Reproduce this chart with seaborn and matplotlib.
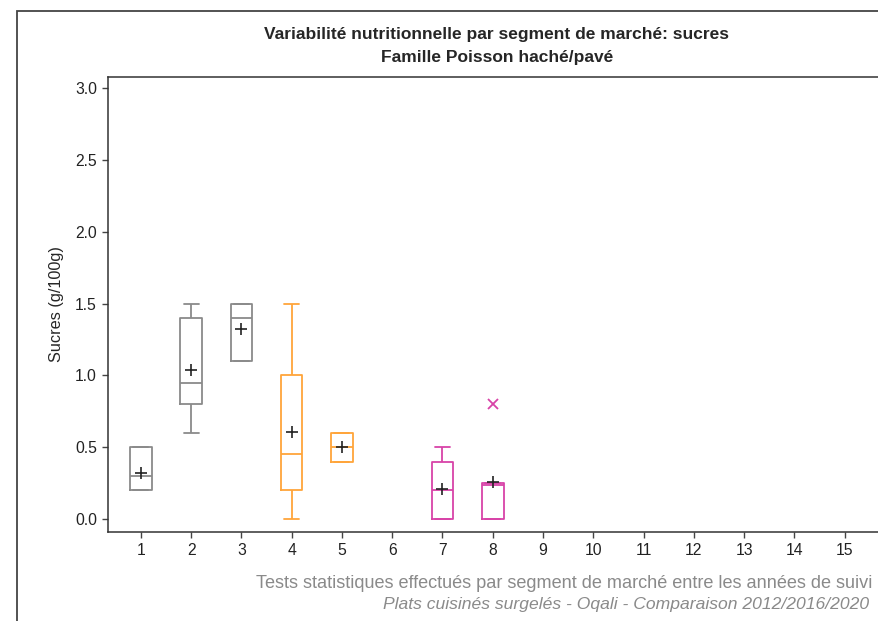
import matplotlib
matplotlib.use('Agg')
import matplotlib.pyplot as plt
import matplotlib.patches as mpatches
import pandas as pd
import seaborn as sns

# Sugar values (g/100g) per market segment
segments = [str(i) for i in range(1, 16)]
seg_1 = [0.2, 0.2, 0.2, 0.2, 0.3, 0.3, 0.5, 0.5, 0.5]
seg_2 = [0.6, 0.7, 0.8, 0.9, 0.95, 1.0, 1.4, 1.5, 1.5]
seg_3 = [1.1, 1.1, 1.4, 1.5, 1.5]
seg_4 = [0.0, 0.1, 0.2, 0.4, 0.45, 0.6, 1.0, 1.2, 1.5]
seg_5 = [0.4, 0.4, 0.5, 0.6, 0.6]
seg_7 = [0.0, 0.0, 0.0, 0.1, 0.2, 0.3, 0.4, 0.4, 0.5]
seg_8 = [0.0, 0.0, 0.24, 0.25, 0.8]

groups = {'1': 'A', '2': 'A', '3': 'A', '4': 'B', '5': 'B', '7': 'C', '8': 'C'}
my_cs = {'A': '#8a8a8a', 'B': '#ffa53a', 'C': '#d843a8'}

title = 'Variabilité nutritionnelle par segment de marché: sucres\nFamille Poisson haché/pavé'
footer_1 = 'Tests statistiques effectués par segment de marché entre les années de suivi'
footer_2 = 'Plats cuisinés surgelés - Oqali - Comparaison 2012/2016/2020'


def build_frame():
  rows = []
  for seg, vals in [('1', seg_1), ('2', seg_2), ('3', seg_3), ('4', seg_4),
                    ('5', seg_5), ('7', seg_7), ('8', seg_8)]:
    for v in vals:
      rows.append({'segment': seg, 'value': v, 'group': groups[seg]})
  return pd.DataFrame(rows)


def main():
  df = build_frame()
  sns.set_style('ticks')
  plt.rcParams['font.family'] = ['Liberation Sans', 'DejaVu Sans']

  fig = plt.figure(figsize=(8.79, 6.21), dpi=100)
  W, H = 879, 621
  ax = fig.add_axes([108 / W, (H - 532) / H, (905 - 108) / W, (532 - 77) / H])

  sns.boxplot(data=df, x='segment', y='value', hue='group', order=segments,
              palette=my_cs, fill=False, dodge=False, width=0.43, whis=1.5,
              linewidth=1.3, legend=False, ax=ax, capwidths=0.3,
              showmeans=True,
              meanprops=dict(marker='+', markeredgecolor='#222222',
                             markerfacecolor='#222222', markersize=9,
                             markeredgewidth=1.2),
              flierprops=dict(marker='x', markersize=7, markeredgewidth=1.3))

  # flier colour follows the group colour
  for line in ax.lines:
    if line.get_marker() == 'x':
      line.set_markeredgecolor(my_cs['C'])

  ax.set_xlim(-0.653, 15.2)
  ax.set_ylim(-0.0905, 3.0787)
  ax.set_yticks([0, 0.5, 1.0, 1.5, 2.0, 2.5, 3.0])
  ax.set_yticklabels(['0.0', '0.5', '1.0', '1.5', '2.0', '2.5', '3.0'])
  ax.set_xlabel('')
  ax.set_ylabel('Sucres (g/100g)', fontsize=11.7, labelpad=8)
  ax.tick_params(axis='both', labelsize=11.3, length=4, width=1,
                 color='#444444', labelcolor='#222222', pad=4)
  for side in ['left', 'bottom', 'top', 'right']:
    ax.spines[side].set_visible(True)
    ax.spines[side].set_color('#333333')
    ax.spines[side].set_linewidth(1.1)

  fig.text(497 / W, 1 - 46 / H, title, ha='center', va='center',
           fontsize=12.5, fontweight='bold', linespacing=1.6)
  fig.text(256 / W, 1 - 583 / H, footer_1, ha='left', va='center',
           fontsize=13.1, color='#8a8a8a')
  fig.text(383 / W, 1 - 604 / H, footer_2, ha='left', va='center',
           fontsize=12.6, color='#8a8a8a', style='italic')

  border = mpatches.Rectangle((16.5 / W, -0.1), 1.2, 1 - 10.5 / H + 0.1,
                              transform=fig.transFigure, fill=False,
                              edgecolor='#444444', linewidth=1.3,
                              clip_on=False)
  fig.patches.append(border)

  plt.savefig('out.png', dpi=100)
  plt.close()


if __name__ == '__main__':
  main()
